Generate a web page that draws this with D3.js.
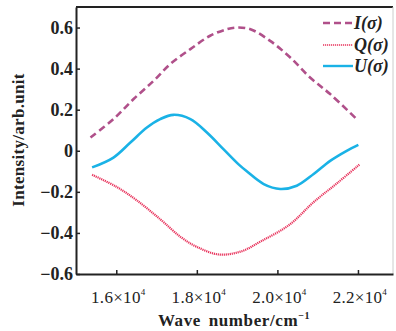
<!DOCTYPE html>
<html>
<head>
<meta charset="utf-8">
<script src="https://cdn.jsdelivr.net/npm/d3@7"></script>
<style>
  body { margin: 0; background: #fff; }
  svg { display: block; font-family: "Liberation Serif", "DejaVu Serif", serif; }
</style>
</head>
<body>
<div id="chart"></div>
<script>
// wave numbers (x) and the three Stokes curves
var waveI = [15360, 15930, 16430, 16930, 17340, 17840, 18330, 18750, 19000, 19330, 19820, 20320, 20810, 21310, 21970];
var valI  = [0.065, 0.154, 0.252, 0.341, 0.422, 0.495, 0.56, 0.592, 0.6, 0.592, 0.535, 0.454, 0.357, 0.276, 0.154];

var waveQ = [15400, 16000, 16500, 17100, 17600, 18000, 18550, 19100, 19600, 20300, 20900, 21500, 22050];
var valQ  = [-0.117, -0.175, -0.24, -0.335, -0.42, -0.468, -0.505, -0.49, -0.44, -0.36, -0.25, -0.155, -0.065];

var waveU = [15400, 15930, 16350, 16760, 17090, 17420, 17840, 18250, 18660, 19030, 19240, 19660, 20070, 20480, 20900, 21310, 21720, 22010];
var valU  = [-0.081, -0.033, 0.04, 0.113, 0.154, 0.175, 0.154, 0.089, 0.008, -0.065, -0.1, -0.162, -0.186, -0.17, -0.113, -0.049, 0, 0.029];

var xTicks = [16000, 18000, 20000, 22000];
var xTickLabels = ["1.6", "1.8", "2.0", "2.2"];
var yTicks = [-0.6, -0.4, -0.2, 0, 0.2, 0.4, 0.6];
var yTickLabels = ["\u22120.6", "\u22120.4", "\u22120.2", "0", "0.2", "0.4", "0.6"];

var seriesNames = ["I", "Q", "U"];

const W = 396, H = 331;
const margin = {top: 7, right: 3, bottom: 57, left: 76};

var svg = d3.select("#chart").append("svg")
  .attr("width", W).attr("height", H);

var x_scale = d3.scaleLinear()
  .domain([15000, 22870])
  .range([margin.left, W - margin.right]);
var y_scale = d3.scaleLinear()
  .domain([-0.6, 0.7])
  .range([H - margin.bottom, margin.top]);

var styles = [
  {color: "#b0508a", width: 2.6, dash: "7,4"},
  {color: "#e8335c", width: 2.2, dash: "1.2,0.8"},
  {color: "#1ab2e6", width: 2.6, dash: null}
];

var series = [
  d3.zip(waveI, valI),
  d3.zip(waveQ, valQ),
  d3.zip(waveU, valU)
];

var line = d3.line()
  .x(d => x_scale(d[0]))
  .y(d => y_scale(d[1]))
  .curve(d3.curveCatmullRom.alpha(0.5));

series.forEach(function(s, i) {
  svg.append("path")
    .attr("d", line(s))
    .attr("fill", "none")
    .attr("stroke", styles[i].color)
    .attr("stroke-width", styles[i].width)
    .attr("stroke-dasharray", styles[i].dash);
});

// frame: top line plus axes
svg.append("line")
  .attr("x1", margin.left).attr("x2", W - margin.right)
  .attr("y1", margin.top).attr("y2", margin.top)
  .attr("stroke", "#222").attr("stroke-width", 2);
svg.append("line")
  .attr("x1", W - margin.right).attr("x2", W - margin.right)
  .attr("y1", margin.top).attr("y2", H - margin.bottom)
  .attr("stroke", "#ccc").attr("stroke-width", 1);

var xAxis = svg.append("g")
  .attr("transform", `translate(0,${H - margin.bottom})`)
  .call(d3.axisBottom(x_scale).tickValues(xTicks).tickSizeInner(-4).tickSizeOuter(0).tickFormat(""));
var yAxis = svg.append("g")
  .attr("transform", `translate(${margin.left},0)`)
  .call(d3.axisLeft(y_scale).tickValues(yTicks).tickSizeInner(-4).tickSizeOuter(0).tickFormat(""));

[xAxis, yAxis].forEach(function(g) {
  g.select(".domain").attr("stroke", "#222").attr("stroke-width", 2);
  g.selectAll(".tick line").attr("stroke", "#222").attr("stroke-width", 1.5);
});

// y tick labels
svg.selectAll(".ylab").data(yTicks).join("text")
  .attr("x", margin.left - 3)
  .attr("y", d => y_scale(d) + 6)
  .attr("text-anchor", "end")
  .attr("font-size", 18)
  .attr("font-weight", 600)
  .attr("fill", "#222")
  .text((d, i) => yTickLabels[i]);

// x tick labels with exponent
var xl = svg.selectAll(".xlab").data(xTicks).join("text")
  .attr("x", d => x_scale(d) + 2)
  .attr("y", H - margin.bottom + 29)
  .attr("text-anchor", "middle")
  .attr("font-size", 17)
  .attr("letter-spacing", 0.3)
  .attr("fill", "#222");
xl.append("tspan").text((d, i) => xTickLabels[i] + "\u00d710");
xl.append("tspan").attr("dy", -8).attr("font-size", 9).text("4");

// axis titles
var xt = svg.append("text")
  .attr("x", 234).attr("y", 326)
  .attr("text-anchor", "middle")
  .attr("font-size", 17)
  .attr("font-weight", 600)
  .attr("letter-spacing", 0.6)
  .attr("word-spacing", 3)
  .attr("fill", "#222");
xt.append("tspan").text("Wave number/cm");
xt.append("tspan").attr("dy", -7).attr("font-size", 10).text("\u22121");

svg.append("text")
  .attr("transform", "translate(24,140) rotate(-90)")
  .attr("text-anchor", "middle")
  .attr("font-size", 17)
  .attr("font-weight", 600)
  .attr("letter-spacing", 0.3)
  .attr("fill", "#222")
  .text("Intensity/arb.unit");

// legend
var legY = [23, 45, 66];
var leg = svg.selectAll(".leg").data(seriesNames).join("g")
  .attr("transform", (d, i) => `translate(323,${legY[i]})`);
leg.append("line")
  .attr("x1", 0).attr("x2", 30)
  .attr("stroke", (d, i) => styles[i].color)
  .attr("stroke-width", (d, i) => i == 1 ? 1.6 : 2.4)
  .attr("stroke-dasharray", (d, i) => styles[i].dash);
leg.append("text")
  .attr("x", 31).attr("y", 6)
  .attr("font-size", 18)
  .attr("font-style", "italic")
  .attr("font-weight", 600)
  .attr("fill", "#222")
  .text(d => d + "(\u03c3)");
</script>
</body>
</html>
